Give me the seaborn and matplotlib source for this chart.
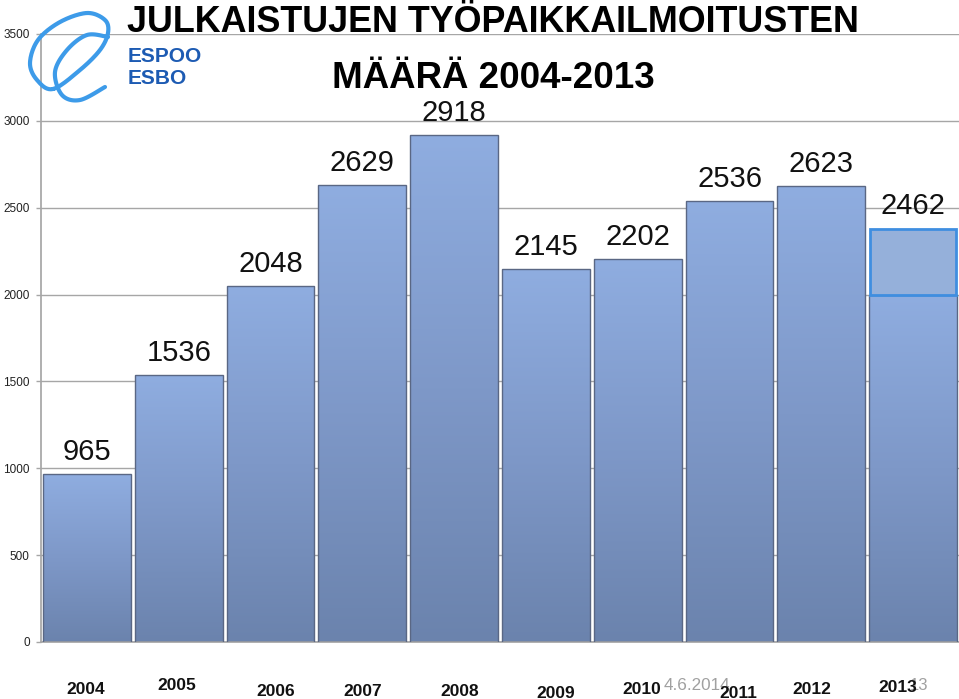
import numpy as np
import pandas as pd
import matplotlib
matplotlib.use("Agg")
import matplotlib.pyplot as plt
import seaborn as sns
from matplotlib.colors import LinearSegmentedColormap
from matplotlib.patches import Rectangle

# ---- data ----
years = ["2004", "2005", "2006", "2007", "2008", "2009", "2010", "2011", "2012", "2013"]
values = [965, 1536, 2048, 2629, 2918, 2145, 2202, 2536, 2623, 2462]
# heights as drawn in the picture (the last bar is drawn to 2000, with a box on top)
drawn = [965, 1536, 2048, 2629, 2918, 2145, 2202, 2536, 2623, 2000]
box_bottom = 2000
box_top = 2380
yticks = [0, 500, 1000, 1500, 2000, 2500, 3000, 3500]
title1 = "JULKAISTUJEN TYÖPAIKKAILMOITUSTEN"
title2 = "MÄÄRÄ 2004-2013"

df = pd.DataFrame({"year": years, "drawn": drawn})

sns.set_theme(style="white")
plt.rcParams["font.family"] = ["Liberation Sans", "DejaVu Sans"]

W, H = 959, 699
fig = plt.figure(figsize=(W / 100, H / 100), dpi=100)
ax = fig.add_axes([41 / W, 57 / H, 918 / W, 608 / H])

sns.barplot(data=df, x="year", y="drawn", ax=ax, width=0.955,
            color="#7f9ccf", edgecolor="#5a6784", linewidth=1.0, zorder=3,
            saturation=1)

# gradient fill for bars
cmap = LinearSegmentedColormap.from_list("bar", ["#6b83ad", "#7e98c8", "#8fade0"])
grad = np.linspace(0, 1, 256).reshape(-1, 1)
for p in ax.patches:
    x0, y0 = p.get_x(), p.get_y()
    w, h = p.get_width(), p.get_height()
    p.set_facecolor("none")
    im = ax.imshow(grad, cmap=cmap, origin="lower", aspect="auto",
                   extent=[x0, x0 + w, y0, y0 + h], zorder=2.5)
    im.set_clip_path(p)

ax.set_xlim(-0.5, len(years) - 0.5)
ax.set_ylim(0, 3500)

# overlay box on 2013
i13 = len(years) - 1
ax.add_patch(Rectangle((i13 - 0.47, box_bottom), 0.94, box_top - box_bottom,
                       facecolor="#95b0da", edgecolor="#3f8ee0", linewidth=2, zorder=4))

ax.set_yticks(yticks)
ax.set_yticklabels([str(t) for t in yticks], fontsize=8.5, color="#222222")
ax.yaxis.grid(True, color="#a6a6a6", linewidth=1.0, zorder=0)
ax.set_axisbelow(True)
ax.tick_params(axis="y", length=3.6, width=1, color="#a6a6a6", pad=4.5, left=True)
ax.set_xticks([])
ax.set_xlabel("")
ax.set_ylabel("")
for s in ["top", "right"]:
    ax.spines[s].set_visible(False)
ax.spines["left"].set_color("#a6a6a6")
ax.spines["bottom"].set_color("#a6a6a6")

# value labels
for i, v in enumerate(values):
    top = drawn[i] if i != i13 else box_top
    ax.annotate(str(v), (i, top), xytext=(0, 16), textcoords="offset points",
                ha="center", va="center", fontsize=21, color="#111111", zorder=6)

# overlay axes in pixel coords for free texts
ov = fig.add_axes([0, 0, 1, 1], zorder=10)
ov.set_xlim(0, W)
ov.set_ylim(H, 0)
ov.axis("off")
ov.patch.set_alpha(0)

# x labels (staggered as in the slide)
xl_x = [86, 177, 276, 363, 460, 556, 642, 738, 812, 898]
xl_y = [690, 686, 692, 692, 692, 693, 690, 693, 689, 687]
ov.text(928, 686, "13", ha="right", va="center", fontsize=12, color="#a0a0a0")
ov.text(664, 685, "4.6.2014", ha="left", va="center", fontsize=12.3, color="#a0a0a0")
for lab, x, y in zip(years, xl_x, xl_y):
    ov.text(x, y, lab, ha="center", va="center", fontsize=12.5,
            fontweight="bold", color="#111111",
            bbox=None)

# title
ov.text(493, 23, title1, ha="center", va="center", fontsize=25.8,
        fontweight="bold", color="#000000")
ov.text(493, 78, title2, ha="center", va="center", fontsize=26.5,
        fontweight="bold", color="#000000")

# logo
def catmull(P, n=20, closed=False):
    P = np.asarray(P, dtype=float)
    if closed:
        P = np.vstack([P[-1], P, P[0], P[1]])
    else:
        P = np.vstack([P[0], P, P[-1]])
    out = []
    for k in range(1, len(P) - 2):
        p0, p1, p2, p3 = P[k - 1], P[k], P[k + 1], P[k + 2]
        for t in np.linspace(0, 1, n, endpoint=False):
            t2, t3 = t * t, t * t * t
            out.append(0.5 * ((2 * p1) + (-p0 + p2) * t +
                              (2 * p0 - 5 * p1 + 4 * p2 - p3) * t2 +
                              (-p0 + 3 * p1 - 3 * p2 + p3) * t3))
    out.append(P[-2])
    return np.array(out)

outer = [(53, 89), (37, 80), (30, 63), (38, 40), (60, 22), (87, 13),
         (105, 20), (108, 33), (100, 50), (80, 70)]
inner = [(108, 37), (87, 35), (67, 50), (55, 72), (62, 95), (80, 100), (105, 87)]
c1 = catmull(outer, closed=True)
c2 = catmull(inner)
ov.plot(c1[:, 0], c1[:, 1], color="#3d9be9", linewidth=3.0, solid_capstyle="round")
ov.plot(c2[:, 0], c2[:, 1], color="#3d9be9", linewidth=3.0, solid_capstyle="round")
ov.text(128, 57, "ESPOO", ha="left", va="center", fontsize=15, fontweight="bold",
        color="#1d5bb3")
ov.text(128, 78, "ESBO", ha="left", va="center", fontsize=15, fontweight="bold",
        color="#1d5bb3")

fig.savefig("out.png", dpi=100)
